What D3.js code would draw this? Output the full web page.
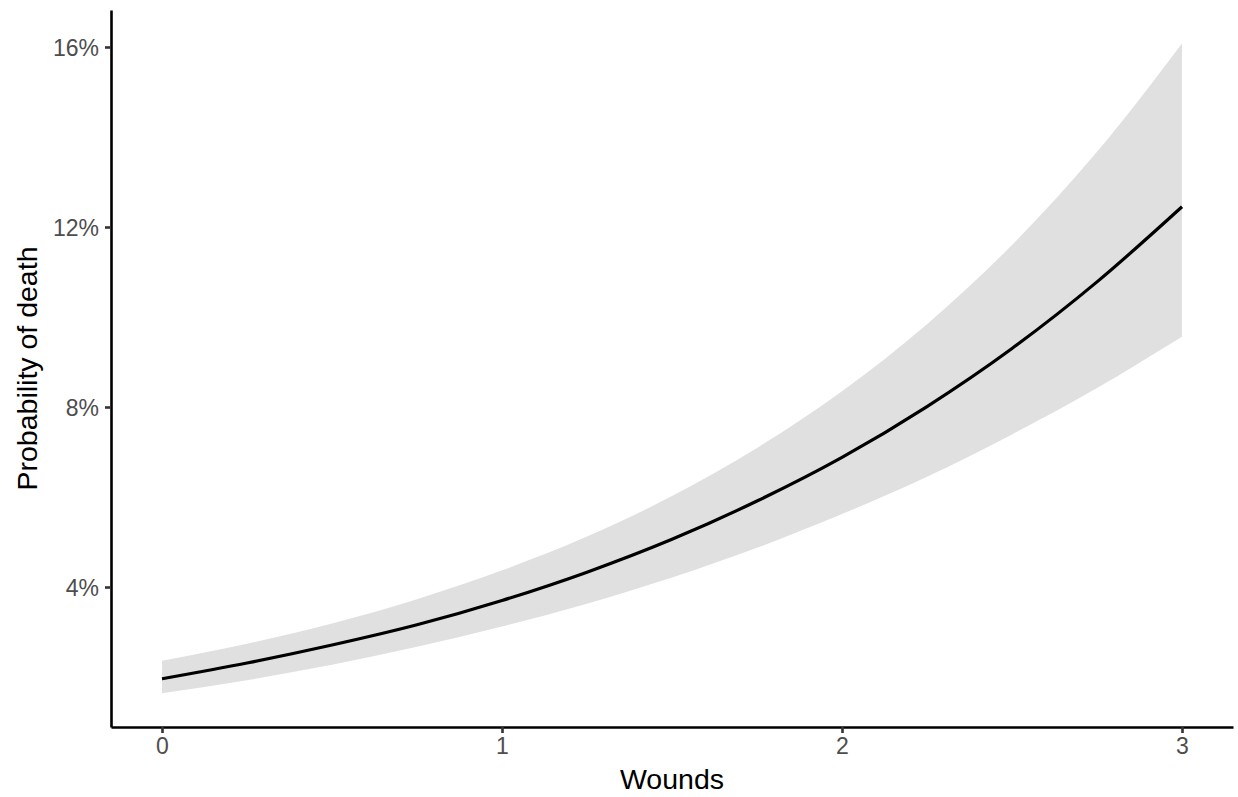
<!DOCTYPE html>
<html>
<head>
<meta charset="utf-8">
<script src="https://cdn.jsdelivr.net/npm/d3@7"></script>
<style>
  html, body { margin: 0; padding: 0; background: #ffffff; }
  svg { display: block; }
  text { font-family: "Liberation Sans", Arial, Helvetica, sans-serif; }
</style>
</head>
<body>
<svg id="chart" width="1238" height="797"></svg>
<script>
// ---- data ----
const wounds = [0, 0.25, 0.5, 0.75, 1, 1.25, 1.5, 1.75, 2, 2.25, 2.5, 2.75, 3];
const probability = [1.96, 2.31, 2.71, 3.16, 3.70, 4.33, 5.06, 5.91, 6.88, 8.01, 9.30, 10.78, 12.45]; // %
const upperCI = [2.36, 2.74, 3.19, 3.73, 4.37, 5.12, 6.02, 7.09, 8.35, 9.84, 11.60, 13.67, 16.08];   // %
const lowerCI = [1.64, 1.93, 2.27, 2.67, 3.12, 3.63, 4.21, 4.87, 5.62, 6.45, 7.39, 8.42, 9.56];      // %
const xTicks = [0, 1, 2, 3];
const yTicks = [4, 8, 12, 16];
const xTitle = "Wounds";
const yTitle = "Probability of death";

// ---- layout ----
const svg = d3.select("#chart");
const mLeft = 111, mRight = 1233, mTop = 10, mBottom = 727;

const x = d3.scaleLinear().domain([-0.15, 3.15]).range([mLeft, mRight]);
const y = d3.scaleLinear().domain([0.889, 16.822]).range([mBottom, mTop]);

const rows = wounds.map((w, i) => ({ w, p: probability[i], lo: lowerCI[i], hi: upperCI[i] }));

// ribbon
const area = d3.area()
  .x(d => x(d.w))
  .y0(d => y(d.lo))
  .y1(d => y(d.hi))
  .curve(d3.curveMonotoneX);
svg.append("path").datum(rows)
  .attr("d", area)
  .attr("fill", "#E0E0E0");

// line
const line = d3.line()
  .x(d => x(d.w))
  .y(d => y(d.p))
  .curve(d3.curveMonotoneX);
svg.append("path").datum(rows)
  .attr("d", line)
  .attr("fill", "none")
  .attr("stroke", "#000000")
  .attr("stroke-width", 3.2);

// axes
const xAxis = d3.axisBottom(x).tickValues(xTicks).tickFormat(d3.format("d")).tickSize(6).tickSizeOuter(0).tickPadding(5);
const yAxis = d3.axisLeft(y).tickValues(yTicks).tickFormat(d => d + "%").tickSize(6).tickSizeOuter(0).tickPadding(6);

const gx = svg.append("g").attr("transform", `translate(0,${mBottom})`).call(xAxis);
const gy = svg.append("g").attr("transform", `translate(${mLeft},0)`).call(yAxis);

[gx, gy].forEach(g => {
  g.select(".domain").attr("stroke", "#000000").attr("stroke-width", 2.6);
  g.selectAll(".tick line").attr("stroke", "#333333").attr("stroke-width", 2.6);
  g.selectAll(".tick text")
    .attr("fill", "#4D4D4D")
    .style("font-size", "23px")
    .style("font-family", "'Liberation Sans', Arial, sans-serif");
});
gy.selectAll(".tick text").attr("dy", "0.36em");

// titles
svg.append("text")
  .attr("x", (mLeft + mRight) / 2)
  .attr("y", 789)
  .attr("text-anchor", "middle")
  .attr("fill", "#000000")
  .style("font-size", "28.5px")
  .text(xTitle);

svg.append("text")
  .attr("transform", `translate(37,${(mTop + mBottom) / 2}) rotate(-90)`)
  .attr("text-anchor", "middle")
  .attr("fill", "#000000")
  .style("font-size", "28.5px")
  .text(yTitle);
</script>
</body>
</html>
